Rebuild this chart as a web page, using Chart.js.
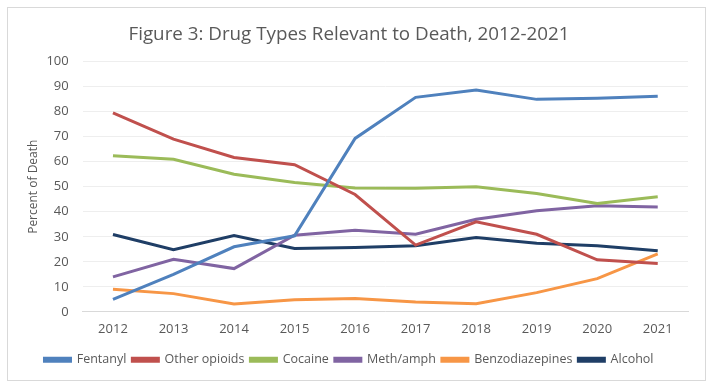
<!DOCTYPE html>
<html>
<head>
<meta charset="utf-8">
<script src="https://cdn.jsdelivr.net/npm/chart.js@4"></script>
<style>
  html, body { margin: 0; padding: 0; background: #fff; }
  #wrap { position: relative; width: 714px; height: 389px; }
  #frame { position: absolute; left: 7px; top: 7px; width: 697px; height: 372px; border: 1px solid #d9d9d9; }
  #chart { position: absolute; left: 0; top: 0; }
</style>
</head>
<body>
<div id="wrap">
  <div id="frame"></div>
  <canvas id="chart" width="714" height="389"></canvas>
</div>
<script>
const years = ['2012', '2013', '2014', '2015', '2016', '2017', '2018', '2019', '2020', '2021'];
const fentanyl = [5, 15, 26, 30.4, 69.3, 85.7, 88.6, 84.9, 85.3, 86.1];
const otherOpioids = [79.5, 69, 61.7, 58.8, 46.9, 26.7, 36, 31, 20.8, 19.3];
const cocaine = [62.4, 61, 55, 51.7, 49.5, 49.4, 50, 47.3, 43.3, 46];
const methAmph = [14, 21, 17.3, 30.6, 32.6, 31, 37, 40.4, 42.4, 41.9];
const benzos = [9, 7.3, 3.2, 4.9, 5.4, 4, 3.3, 7.7, 13.3, 23.2];
const alcohol = [30.9, 24.8, 30.5, 25.3, 25.7, 26.4, 29.7, 27.4, 26.4, 24.4];
const yTicks = [0, 10, 20, 30, 40, 50, 60, 70, 80, 90, 100];

const font = "'Open Sans', sans-serif";
const textColor = '#595959';

function series(label, data, color) {
    return {
        label: label,
        data: data,
        borderColor: color,
        backgroundColor: color,
        borderWidth: 3,
        pointRadius: 0,
        tension: 0
    };
}

new Chart(document.getElementById('chart'), {
    type: 'line',
    data: {
        labels: years,
        datasets: [
            series('Fentanyl', fentanyl, '#4F81BD'),
            series('Other opioids', otherOpioids, '#C0504D'),
            series('Cocaine', cocaine, '#9BBB59'),
            series('Meth/amph', methAmph, '#8064A2'),
            series('Benzodiazepines', benzos, '#F79646'),
            series('Alcohol', alcohol, '#1F3E66')
        ]
    },
    options: {
        responsive: false,
        animation: false,
        layout: { padding: { left: 10, right: 26, top: 23, bottom: 13 } },
        plugins: {
            title: {
                display: true,
                text: 'Figure 3: Drug Types Relevant to Death, 2012-2021',
                color: textColor,
                font: { family: font, size: 18.8, weight: 'normal' },
                padding: { top: 0, bottom: 16 }
            },
            legend: {
                position: 'bottom',
                labels: {
                    color: textColor,
                    font: { family: font, size: 12.5 },
                    boxWidth: 26,
                    boxHeight: 3,
                    padding: 6
                }
            },
            tooltip: { enabled: false }
        },
        scales: {
            x: {
                offset: true,
                grid: { display: false, drawTicks: false },
                border: { color: '#d9d9d9' },
                ticks: { color: textColor, font: { family: font, size: 13 }, padding: 10 }
            },
            y: {
                min: 0,
                max: 100,
                afterBuildTicks: axis => { axis.ticks = yTicks.map(v => ({ value: v })); },
                grid: { color: '#eeeeee', drawTicks: false },
                border: { display: false },
                ticks: { color: textColor, font: { family: font, size: 13 }, padding: 14 },
                title: {
                    display: true,
                    text: 'Percent of Death',
                    color: textColor,
                    font: { family: font, size: 12 },
                    padding: { top: 16, bottom: -8 }
                }
            }
        }
    }
});
</script>
</body>
</html>
